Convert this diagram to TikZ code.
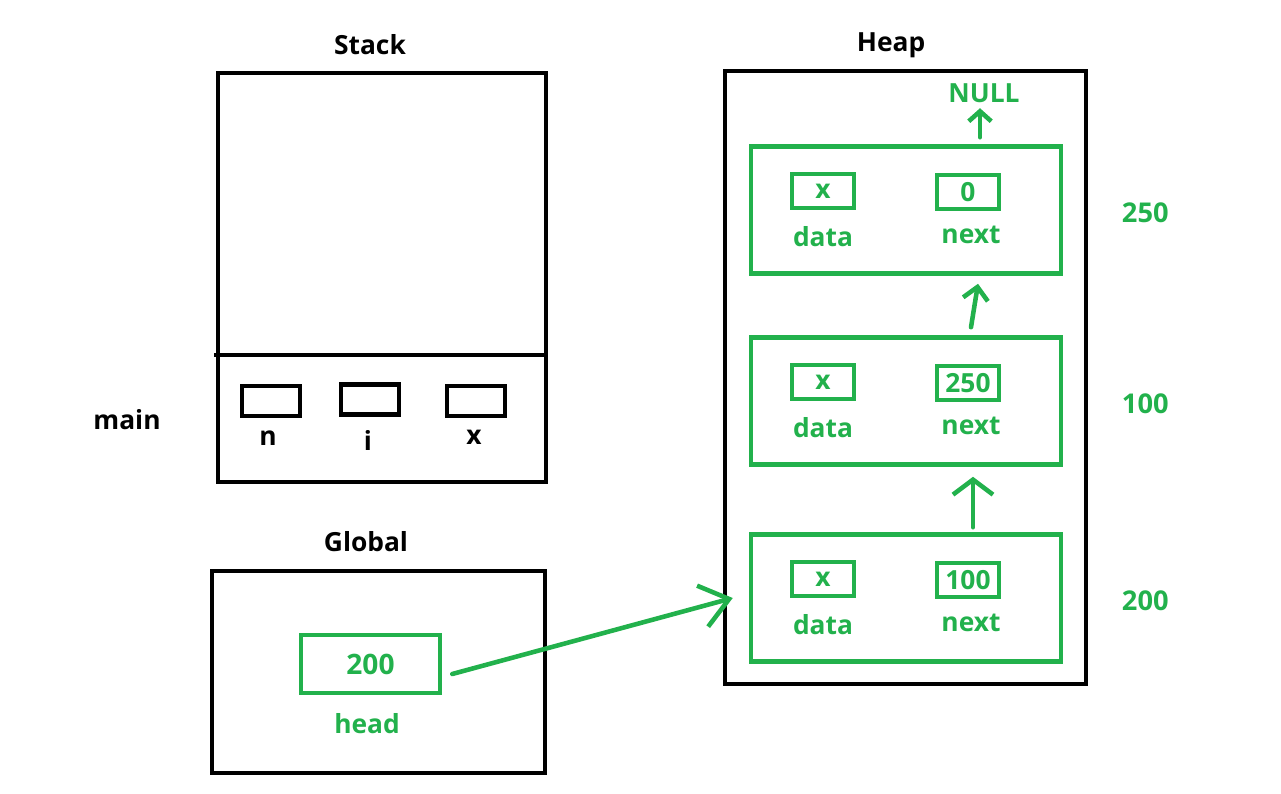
\documentclass[tikz,border=0pt]{standalone}
\usepackage{fontspec}
\setmainfont{Open Sans}
\usetikzlibrary{arrows.meta,positioning}
\definecolor{heapgreen}{RGB}{34,177,76}
\tikzstyle{frame}=[draw=black,line width=2.3pt,inner sep=0pt]
\tikzstyle{title}=[font=\bfseries\fontsize{15}{18}\selectfont,text=black]
\tikzstyle{greentext}=[font=\bfseries\fontsize{15}{18}\selectfont,text=heapgreen]
\tikzstyle{greenbox}=[greentext,draw=heapgreen,line width=2.6pt,inner sep=0pt]
\tikzstyle{cell}=[draw=heapgreen,line width=2.6pt,minimum width=6.2cm,minimum height=2.54cm]
\tikzstyle{link}=[draw=heapgreen,line width=2.6pt,line cap=round]

\begin{document}
\begin{tikzpicture}[x=0.02cm,y=-0.02cm]
    \useasboundingbox (0,0) rectangle (1281,794);

    % Titles of the three areas
    \node[title] (stacklbl) at (370,45) {Stack};
    \node[title] (globallbl) at (366,542) {Global};
    \node[title] (heaplbl) at (891,45) {Heap};
    \node[title] (mainlbl) at (127,420) {main};

    % Stack with the frame of main
    \node[frame,minimum width=6.56cm,minimum height=8.18cm] (stack) at (382,277.5) {};
    \coordinate (split) at (214,355);
    \draw[frame] (split) -- (split -| stack.east);

    \foreach \name/\bx/\by/\lx/\ly in {n/271/401/268/438, i/370/399.5/368/440, x/476/401/474/437}
    {
        \node[frame,minimum width=1.16cm,minimum height=0.6cm] (var\name) at (\bx,\by) {};
        \node[title] (lbl\name) at (\lx,\ly) {\name};
    }

    % Global area with head
    \node[frame,minimum width=6.66cm,minimum height=4.04cm] (global) at (378.5,672) {};
    \node[greenbox,font=\bfseries\fontsize{16}{19}\selectfont,minimum width=2.78cm,minimum height=1.16cm] (head) at (370.5,664) {200};
    \node[greentext] (headlbl) at (367,724) {head};

    % Heap with the three list cells
    \node[frame,minimum width=7.22cm,minimum height=12.26cm] (heap) at (905.5,377.5) {};

    \foreach \name/\y/\val in {250/210/0, 100/401/250, 200/598/100}
    {
        \node[cell] (cell\name) at (906,\y) {};
        \node[greenbox,minimum width=1.24cm,minimum height=0.68cm] (data\name) at (823,\y-19) {x};
        \node[greenbox,minimum width=1.24cm,minimum height=0.68cm] (next\name) at (968,\y-18) {\val};
        \node[greentext] (datalbl\name) at (823,\y+27) {data};
        \node[greentext] (nextlbl\name) at (971,\y+25) {next};
        \node[greentext,font=\bfseries\fontsize{15.5}{18}\selectfont,right=1.05cm of cell\name,yshift=-0.06cm] (addr\name) {\name};
    }

    \node[greentext] (null) at (984,93) {NULL};

    % Links between the cells
    \draw[link,-{Straight Barb[length=0.2cm,width=0.45cm]}] ([xshift=0.24cm,yshift=0.14cm]cell250.north -| next250) -- ([xshift=0.24cm,yshift=0.72cm]cell250.north -| next250);
    \draw[link,-{Straight Barb[length=0.25cm,width=0.5cm]}] ([xshift=0.06cm,yshift=0.16cm]cell100.north -| next100) -- ([xshift=0.2cm,yshift=-0.16cm]cell250.south -| next250);
    \draw[link,-{Straight Barb[length=0.3cm,width=0.8cm]}] ([xshift=0.1cm,yshift=0.1cm]cell200.north -| next200) -- ([xshift=0.1cm,yshift=-0.2cm]cell100.south -| next100);
    \draw[link,-{Straight Barb[length=0.55cm,width=0.85cm]}] ([xshift=0.2cm,yshift=-0.2cm]head.east) -- ([xshift=-0.32cm]cell200.west);

\end{tikzpicture}
\end{document}
